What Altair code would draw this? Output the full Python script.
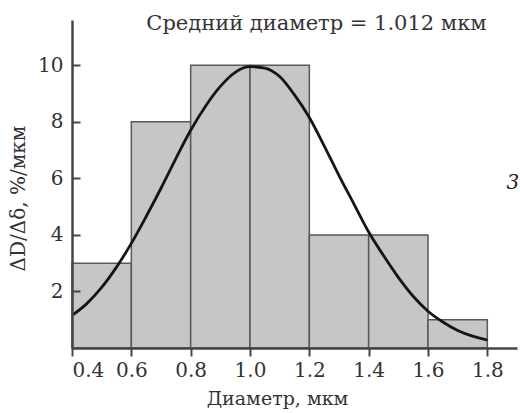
import altair as alt
import pandas as pd

# Histogram bins (мкм) and heights (%/мкм)
bin_start = [0.4, 0.6, 0.8, 1.0, 1.2, 1.4, 1.6]
bin_end = [0.6, 0.8, 1.0, 1.2, 1.4, 1.6, 1.8]
heights = [3, 8, 10, 10, 4, 4, 1]

# Fitted curve
curve_x = [0.40, 0.45, 0.50, 0.55, 0.60, 0.65, 0.70, 0.75, 0.80, 0.85, 0.90, 0.95,
           1.00, 1.05, 1.10, 1.15, 1.20, 1.25, 1.30, 1.35, 1.40, 1.45, 1.50, 1.55,
           1.60, 1.65, 1.70, 1.75, 1.80]
curve_y = [1.15, 1.57, 2.14, 2.86, 3.7, 4.65, 5.65, 6.7, 7.7, 8.55, 9.25, 9.75,
           9.95, 9.9, 9.6, 8.95, 8.15, 7.15, 6.1, 5.1, 4.1, 3.27, 2.5, 1.83,
           1.3, 0.92, 0.62, 0.42, 0.28]

x_ticks = [0.4, 0.6, 0.8, 1.0, 1.2, 1.4, 1.6, 1.8]
y_ticks = [2, 4, 6, 8, 10]

title_text = "Средний диаметр = 1.012 мкм"
x_title = "Диаметр, мкм"
y_title = "ΔD/Δδ, %/мкм"
panel_label = ["3"]
panel_x = [1.886]
panel_y = [5.85]

FONT = "DejaVu Serif"
X_DOMAIN = [0.4, 1.9]
Y_DOMAIN = [0, 11.6]

bars = pd.DataFrame({"start": bin_start, "end": bin_end, "h": heights})
curve = pd.DataFrame({"x": curve_x, "y": curve_y})
lab = pd.DataFrame({"t": panel_label, "x": panel_x, "y": panel_y})

xs = alt.Scale(domain=X_DOMAIN, nice=False, zero=False)
ys = alt.Scale(domain=Y_DOMAIN, nice=False)

bar_layer = alt.Chart(bars).mark_bar(
    fill="#c6c6c6", stroke="#585858", strokeWidth=1.5
).encode(
    x=alt.X("start:Q", scale=xs, axis=alt.Axis(
        values=x_ticks, format=".1f", title=x_title, grid=False,
        tickSize=8, tickWidth=2, tickColor="#444", domainColor="#444", domainWidth=2.5,
        labelFont=FONT, labelFontSize=20, labelColor="#333", labelPadding=4,
        titleFont=FONT, titleFontSize=19, titleFontWeight="normal", titleColor="#333",
        titleX=205, titleY=50, titleBaseline="middle", titleAnchor="middle", zindex=1)),
    x2="end:Q",
    y=alt.Y("h:Q", scale=ys, axis=alt.Axis(
        values=y_ticks, title=y_title, grid=False, ticks=False,
        domainColor="#444", domainWidth=2.5,
        labelFont=FONT, labelFontSize=20, labelColor="#333", labelPadding=9,
        titleFont=FONT, titleFontSize=20, titleFontWeight="normal", titleColor="#333",
        titleX=-54, titleY=178, titleBaseline="middle", titleAnchor="middle", zindex=1)),
    y2=alt.datum(0),
)

line_layer = alt.Chart(curve).mark_line(
    color="#151515", strokeWidth=2.8, interpolate="monotone"
).encode(
    x=alt.X("x:Q", scale=xs),
    y=alt.Y("y:Q", scale=ys, axis=alt.Axis(
        orient="right", offset=-445, values=y_ticks, labels=False, domain=False,
        tickSize=8, tickWidth=2, tickColor="#444", title=None, grid=False, zindex=1)),
)

text_layer = alt.Chart(lab).mark_text(
    font=FONT, fontSize=20, fontStyle="italic", color="#222", align="center", baseline="middle"
).encode(
    x=alt.X("x:Q", scale=xs),
    y=alt.Y("y:Q", scale=ys, axis=None),
    text="t:N",
)

chart = alt.layer(bar_layer, line_layer, text_layer).resolve_axis(
    y="independent"
).properties(
    width=445, height=328,
    title=alt.TitleParams(title_text, font=FONT, fontSize=21, fontWeight="normal",
                          color="#333", anchor="middle", dx=22, dy=18),
    autosize=alt.AutoSizeParams(type="none"),
    padding={"left": 72, "top": 20, "right": 3, "bottom": 65},
).configure_view(stroke=None)

chart.save("out.html", embed_options={"renderer": "svg", "actions": False})
